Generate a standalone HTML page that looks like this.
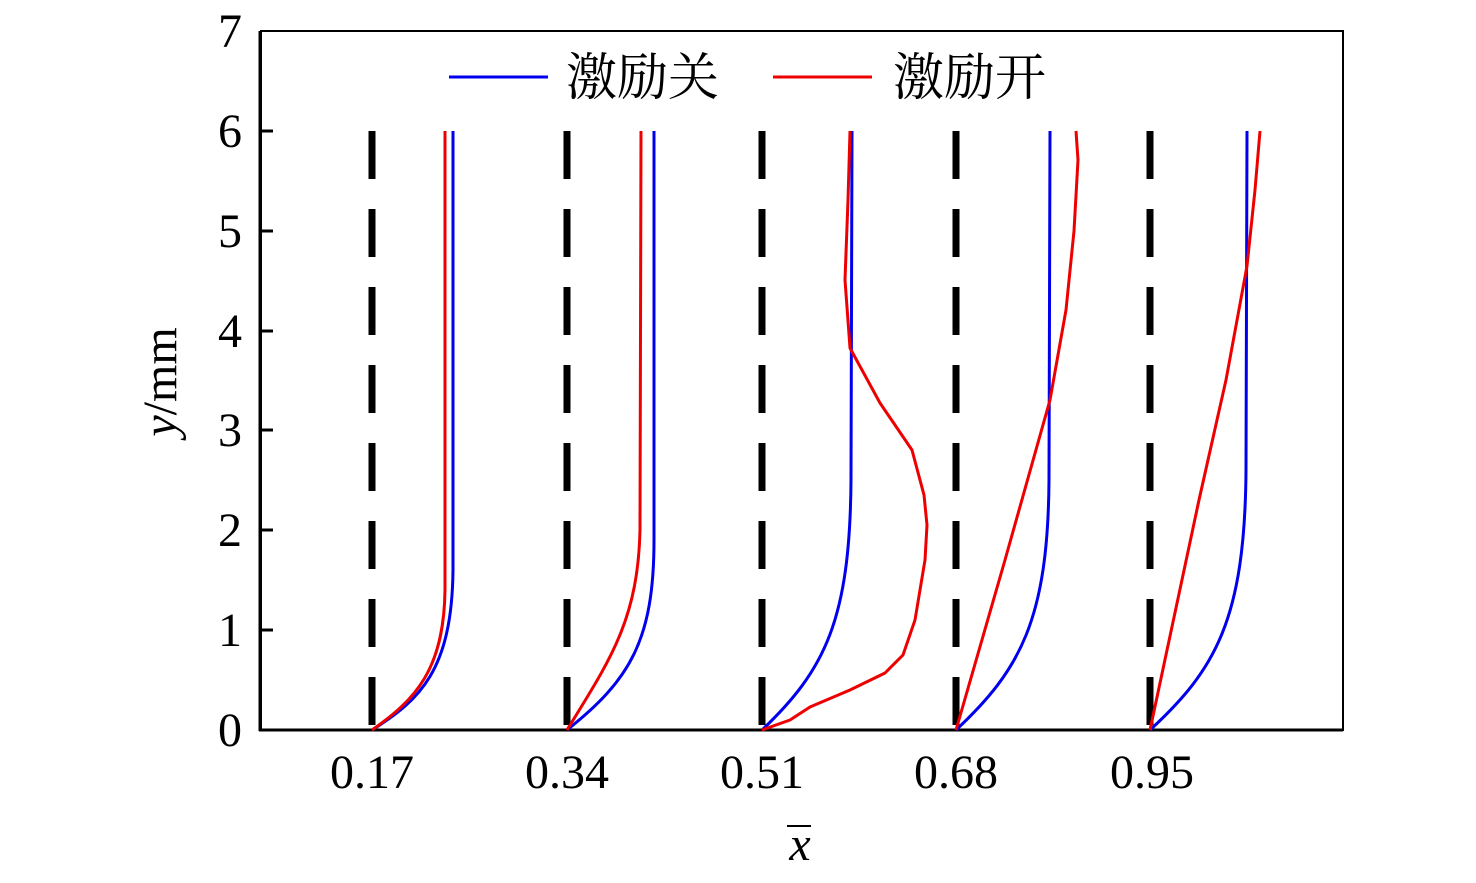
<!DOCTYPE html>
<html><head><meta charset="utf-8"><style>body{margin:0;background:#fff}</style></head><body>
<svg width="1476" height="878" xmlns="http://www.w3.org/2000/svg" style="font-family:'Liberation Serif',serif">
<rect x="261" y="31" width="1082" height="699" fill="none" stroke="#000" stroke-width="2"/>
<line x1="260" y1="31" x2="260" y2="731" stroke="#000" stroke-width="3"/>
<line x1="259" y1="730" x2="1343" y2="730" stroke="#000" stroke-width="3"/>
<g stroke="#000" stroke-width="3">
<line x1="260" y1="630" x2="273" y2="630"/><line x1="260" y1="530" x2="273" y2="530"/><line x1="260" y1="430" x2="273" y2="430"/><line x1="260" y1="331" x2="273" y2="331"/><line x1="260" y1="231" x2="273" y2="231"/><line x1="260" y1="131" x2="273" y2="131"/>
</g>
<g font-size="48" text-anchor="end" fill="#000">
<text x="242" y="746">0</text><text x="242" y="646">1</text><text x="242" y="546">2</text><text x="242" y="446">3</text><text x="242" y="347">4</text><text x="242" y="247">5</text><text x="242" y="147">6</text><text x="242" y="47">7</text>
</g>
<g font-size="48" text-anchor="middle" fill="#000">
<text x="372" y="788">0.17</text><text x="567" y="788">0.34</text><text x="762" y="788">0.51</text><text x="956" y="788">0.68</text><text x="1152" y="788">0.95</text>
<text x="800" y="860" font-style="italic">x</text>
</g>
<line x1="787" y1="826" x2="811" y2="826" stroke="#000" stroke-width="2"/>
<text transform="translate(176,382) rotate(-90)" font-size="48" text-anchor="middle"><tspan font-style="italic">y</tspan>/mm</text>
<g stroke="#000" stroke-width="7" stroke-dasharray="48 30">
<line x1="372" y1="131" x2="372" y2="730"/><line x1="567" y1="131" x2="567" y2="730"/><line x1="762" y1="131" x2="762" y2="730"/><line x1="956" y1="131" x2="956" y2="730"/><line x1="1150" y1="131" x2="1150" y2="730"/>
</g>
<g fill="none" stroke="#0000ee" stroke-width="3">
<path d="M372,730 C420,700 452,670 453,570 L453,131"/>
<path d="M567,730 C630,680 654,640 654,540 L654,131"/>
<path d="M762,730 C825,670 850,620 851,480 L852,131"/>
<path d="M956,730 C1020,670 1048,620 1049,480 L1050,131"/>
<path d="M1150,730 C1215,670 1245,620 1246,470 L1247,131"/>
</g>
<g fill="none" stroke="#ee0000" stroke-width="3" stroke-linejoin="round">
<path d="M372,730 C415,700 444,670 445,590 L445,131"/>
<path d="M567,730 C610,660 638,620 640,530 L641,131"/>
<polyline points="762,730 790,720 810,707 850,690 885,673 903,655 915,620 925,560 927,525 924,495 912,450 880,403 850,348 845,280 848,200 850,131"/>
<polyline points="956,730 1005,560 1050,400 1066,310 1074,231 1078,160 1076,131"/>
<polyline points="1150,730 1199,500 1226,380 1247,266 1255,190 1260,131"/>
</g>
<line x1="449" y1="77" x2="548" y2="77" stroke="#0000ee" stroke-width="3"/>
<line x1="773" y1="77" x2="872" y2="77" stroke="#ee0000" stroke-width="3"/>
<g font-size="51" style="font-family:'Noto Serif CJK SC','Noto Sans CJK SC',serif" fill="#000">
<text x="566" y="95">激励关</text><text x="893" y="95">激励开</text>
</g>
</svg>
</body></html>
